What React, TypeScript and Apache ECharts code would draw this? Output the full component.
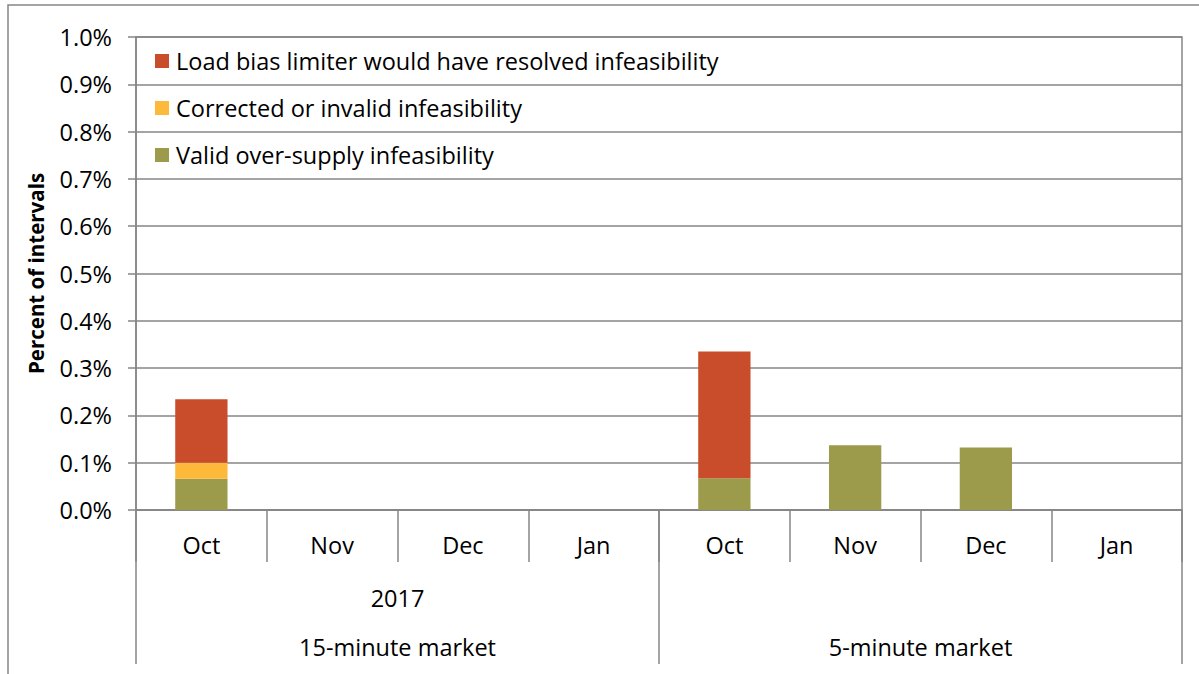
import React, { useEffect, useRef } from "react";
import * as echarts from "echarts";

const months = ["Oct", "Nov", "Dec", "Jan", "Oct", "Nov", "Dec", "Jan"];
const markets = ["15-minute market", "5-minute market"];
const years = ["2017", ""];
const validOverSupply = [0.066, 0, 0, 0, 0.067, 0.137, 0.132, 0];
const correctedInvalid = [0.034, 0, 0, 0, 0, 0, 0, 0];
const loadBiasLimiter = [0.134, 0, 0, 0, 0.268, 0, 0, 0];
const seriesNames = [
  "Load bias limiter would have resolved infeasibility",
  "Corrected or invalid infeasibility",
  "Valid over-supply infeasibility",
];

const FONT = "Open Sans";
const FS = 23.5;
const GRAY = "#868686";

export default function App() {
  const ref = useRef<HTMLDivElement>(null);
  useEffect(() => {
    const chart = echarts.init(ref.current!, null, { renderer: "svg" });
    chart.setOption({
      animation: false,
      textStyle: { fontFamily: FONT, color: "#000" },
      graphic: [
        {
          type: "rect",
          shape: { x: 8, y: 5, width: 1200, height: 700 },
          style: { fill: "none", stroke: GRAY, lineWidth: 1.5 },
          silent: true,
        },
      ],
      grid: {
        left: 136,
        top: 37,
        right: 17,
        bottom: 164,
        show: true,
        borderColor: GRAY,
        borderWidth: 1.5,
      },
      legend: {
        left: 150,
        top: 44,
        orient: "vertical",
        itemWidth: 14,
        itemHeight: 14,
        itemGap: 23,
        icon: "rect",
        data: seriesNames,
        textStyle: { fontSize: FS, fontFamily: FONT, color: "#000", padding: [0, 0, 0, 2], lineHeight: 24 },
      },
      xAxis: [
        {
          type: "category",
          data: months,
          axisLine: { show: true, lineStyle: { color: GRAY, width: 1.5 } },
          axisTick: { show: true, interval: 0, length: 52, lineStyle: { color: GRAY, width: 1.5 } },
          axisLabel: { interval: 0, margin: 23, fontSize: FS, color: "#000" },
        },
        {
          type: "category",
          data: markets,
          position: "bottom",
          axisLine: { show: false },
          axisTick: { show: true, interval: 0, length: 154, lineStyle: { color: GRAY, width: 1.5 } },
          axisLabel: { interval: 0, margin: 125, fontSize: FS, color: "#000" },
        },
        {
          type: "category",
          data: years,
          position: "bottom",
          axisLine: { show: false },
          axisTick: { show: false },
          axisLabel: { interval: 0, margin: 76, fontSize: FS, color: "#000" },
        },
      ],
      yAxis: {
        type: "value",
        min: 0,
        max: 1,
        interval: 0.1,
        name: "Percent of intervals",
        nameLocation: "middle",
        nameGap: 90,
        nameRotate: 90,
        nameTextStyle: { fontSize: 20.5, fontWeight: "bold", color: "#000" },
        axisLine: { show: true, lineStyle: { color: GRAY, width: 1.5 } },
        axisTick: { show: true, length: 8, lineStyle: { color: GRAY, width: 1.5 } },
        axisLabel: {
          margin: 24,
          fontSize: FS,
          color: "#000",
          formatter: (v: number) => v.toFixed(1) + "%",
        },
        splitLine: { show: true, lineStyle: { color: GRAY, width: 1.5 } },
      },
      series: [
        {
          name: seriesNames[2],
          type: "bar",
          stack: "s",
          barWidth: "40%",
          data: validOverSupply,
          itemStyle: { color: "#9B9B4B" },
        },
        {
          name: seriesNames[1],
          type: "bar",
          stack: "s",
          barWidth: "40%",
          data: correctedInvalid,
          itemStyle: { color: "#FDB93A" },
        },
        {
          name: seriesNames[0],
          type: "bar",
          stack: "s",
          barWidth: "40%",
          data: loadBiasLimiter,
          itemStyle: { color: "#C94C2B" },
        },
      ],
    });
    return () => chart.dispose();
  }, []);
  return (
    <div
      ref={ref}
      style={{ position: "absolute", left: 0, top: 0, width: 1199, height: 674, background: "#fff" }}
    />
  );
}
